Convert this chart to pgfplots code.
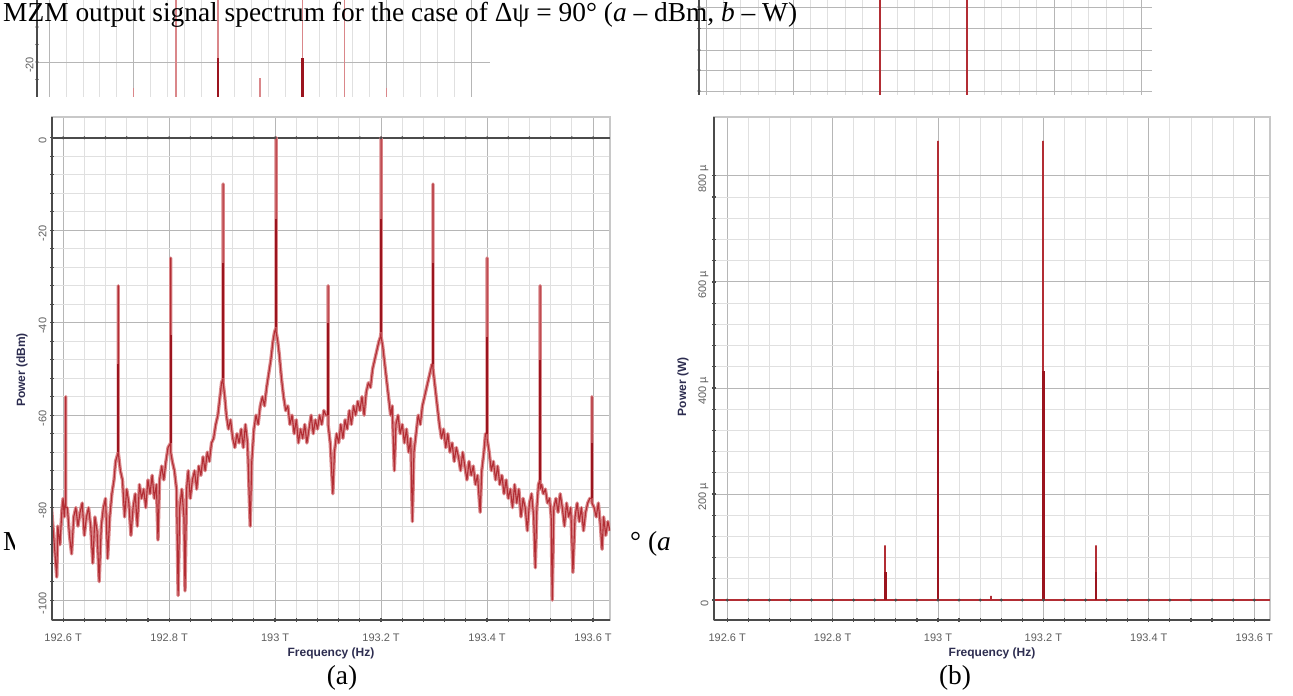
\documentclass[border=0pt]{standalone}
\usepackage{pgfplots}
\usepackage{pgfplotstable}
\pgfplotsset{compat=1.18}
\usepackage{fontspec}
\setmainfont{Liberation Serif}
\newfontfamily\arialfont{Liberation Sans}
\definecolor{trace}{RGB}{178,45,52}
\definecolor{tracedark}{RGB}{155,20,30}
\definecolor{tracelight}{RGB}{218,135,138}
\definecolor{spine}{RGB}{75,75,75}
\definecolor{majgrid}{RGB}{182,182,182}
\definecolor{mingrid}{RGB}{224,224,224}
\definecolor{framegray}{RGB}{200,200,200}
\definecolor{ticklab}{RGB}{95,95,95}
\definecolor{axlab}{RGB}{45,45,80}
\pgfplotsset{
  optistyle/.style={
    scale only axis, anchor=south west, clip mode=individual,
    axis line style={framegray, line width=1.2pt},
    grid=both,
    major grid style={majgrid, line width=0.9pt},
    minor grid style={mingrid, line width=0.9pt},
    minor x tick num=4, minor y tick num=4,
    tick style={spine, line width=1.2pt},
    major tick length=4pt, minor tick length=4pt, tick align=center,
    xtick pos=left, ytick pos=left,
    ticklabel style={font=\arialfont\fontsize{11}{12}\selectfont, text=ticklab},
    /pgf/number format/assume math mode=true,
    xticklabel style={yshift=-8pt},
    yticklabel style={rotate=90, anchor=south, xshift=-3pt},
  },
}
% power spectrum in dBm (panel a)
\pgfplotstableread{
f p
192.578 -80
192.582 -86
192.586 -92
192.588 -95
192.590 -84
192.594 -88
192.598 -80
192.600 -78
192.602 -82
192.604 -79
192.605 -78
192.605 -56
192.605 -80
192.608 -80
192.612 -86
192.616 -90
192.620 -82
192.624 -80
192.628 -84
192.632 -81
192.636 -79
192.640 -86
192.644 -82
192.648 -80
192.652 -84
192.656 -92
192.660 -82
192.664 -85
192.668 -96
192.672 -84
192.676 -80
192.680 -78
192.684 -91
192.688 -82
192.692 -77
192.696 -74
192.699 -70
192.704 -68
192.704 -32
192.704 -68
192.708 -72
192.712 -74
192.716 -82
192.720 -76
192.724 -79
192.728 -86
192.732 -80
192.736 -77
192.740 -84
192.744 -75
192.748 -78
192.752 -76
192.756 -80
192.760 -74
192.764 -77
192.768 -73
192.772 -78
192.776 -75
192.779 -87
192.782 -74
192.786 -71
192.790 -74
192.794 -70
192.798 -67
192.803 -66
192.803 -26
192.803 -68
192.806 -70
192.810 -72
192.814 -76
192.817 -99
192.820 -80
192.824 -76
192.828 -82
192.830 -98
192.833 -76
192.836 -72
192.840 -78
192.844 -74
192.848 -72
192.852 -76
192.856 -71
192.860 -73
192.864 -69
192.868 -72
192.872 -68
192.876 -70
192.880 -66
192.884 -65
192.888 -62
192.892 -60
192.896 -56
192.899 -53
192.902 -52
192.902 -10
192.902 -53
192.905 -56
192.908 -60
192.912 -63
192.916 -61
192.920 -65
192.924 -67
192.928 -64
192.932 -66
192.936 -63
192.940 -67
192.944 -62
192.948 -66
192.953 -84
192.956 -70
192.960 -63
192.964 -60
192.968 -62
192.972 -58
192.976 -56
192.980 -58
192.984 -54
192.988 -51
192.992 -48
192.996 -44
192.999 -42
193.002 -41
193.002 0
193.002 -42
193.005 -44
193.008 -47
193.012 -52
193.016 -56
193.020 -59
193.024 -58
193.028 -62
193.032 -60
193.036 -64
193.040 -61
193.044 -66
193.048 -63
193.052 -65
193.056 -62
193.060 -66
193.064 -63
193.068 -60
193.072 -64
193.076 -61
193.080 -63
193.084 -60
193.088 -62
193.092 -59
193.096 -60
193.100 -60
193.100 -32
193.100 -62
193.104 -66
193.109 -77
193.112 -68
193.116 -64
193.120 -66
193.124 -62
193.128 -65
193.132 -61
193.136 -63
193.140 -59
193.144 -62
193.148 -58
193.152 -60
193.156 -57
193.160 -59
193.164 -56
193.168 -60
193.172 -55
193.176 -53
193.180 -54
193.184 -50
193.188 -48
193.192 -46
193.196 -44
193.199 -43
193.200 -42
193.200 0
193.200 -43
193.203 -45
193.206 -48
193.210 -52
193.214 -56
193.218 -60
193.221 -58
193.225 -72
193.228 -62
193.232 -60
193.236 -64
193.240 -62
193.244 -66
193.248 -63
193.252 -68
193.256 -65
193.259 -83
193.262 -68
193.266 -64
193.270 -60
193.274 -62
193.278 -58
193.282 -56
193.286 -54
193.290 -52
193.294 -50
193.296 -49
193.298 -49
193.298 -10
193.298 -50
193.302 -54
193.306 -58
193.310 -62
193.314 -65
193.318 -63
193.322 -67
193.326 -64
193.330 -68
193.334 -66
193.338 -70
193.342 -67
193.346 -69
193.350 -72
193.354 -68
193.358 -71
193.362 -74
193.366 -70
193.370 -73
193.374 -71
193.378 -75
193.382 -73
193.387 -81
193.390 -72
193.394 -68
193.397 -64
193.400 -64
193.400 -26
193.400 -65
193.404 -68
193.408 -72
193.412 -70
193.416 -74
193.420 -71
193.424 -75
193.428 -73
193.432 -77
193.436 -74
193.440 -78
193.444 -76
193.448 -80
193.452 -75
193.456 -79
193.460 -76
193.464 -82
193.468 -78
193.472 -80
193.476 -85
193.480 -79
193.484 -77
193.488 -82
193.491 -93
193.494 -80
193.497 -75
193.500 -74
193.500 -32
193.500 -76
193.503 -75
193.506 -77
193.510 -76
193.514 -79
193.518 -78
193.521 -82
193.523 -100
193.526 -80
193.530 -78
193.534 -81
193.538 -77
193.542 -80
193.546 -84
193.550 -79
193.554 -82
193.558 -80
193.562 -94
193.566 -82
193.570 -79
193.574 -83
193.578 -80
193.582 -85
193.586 -81
193.590 -79
193.594 -78
193.598 -78
193.598 -56
193.598 -79
193.602 -80
193.606 -82
193.610 -79
193.614 -84
193.617 -89
193.620 -82
193.624 -86
193.628 -83
193.632 -85
}\dbmdata
\begin{document}
\begin{tikzpicture}
\useasboundingbox (0pt,0pt) rectangle (1293pt,696pt);

% ---------- top fragments of the previous figure ----------
\begin{axis}[optistyle, at={(37pt,599pt)}, width=453pt, height=97pt,
  xmin=192.571, xmax=193.645, ymin=-28, ymax=-5.83,
  xtick={192.6,192.8,193.0,193.2,193.4,193.6}, ytick={-20}, yticklabels={-20},
  major tick length=0pt, minor tick length=0pt,
  axis line style={draw=none}, xticklabels={},
  unbounded coords=jump]
\addplot[tracelight, line width=1.6pt] table {
192.8 -40
192.8 -26
192.8 nan
192.9 -40
192.9 -2
192.9 nan
193.0 -40
193.0 0
193.0 nan
193.1 -40
193.1 -23.7
193.1 nan
193.2 -40
193.2 0
193.2 nan
193.3 -40
193.3 -2
193.3 nan
193.4 -40
193.4 -26
};
\addplot[tracedark, line width=2.4pt] table {
193.0 -40
193.0 -19
193.0 nan
193.2 -40
193.2 -19
};
\draw[spine, line width=2pt] (rel axis cs:0,0) -- (rel axis cs:0,1);
\addplot[only marks, mark=*, mark size=1.3pt, spine] coordinates {(192.571,-24)(192.571,-20)(192.571,-16)(192.571,-12)(192.571,-8)};
\end{axis}

\begin{axis}[optistyle, at={(699pt,601pt)}, width=453pt, height=95pt,
  xmin=192.584, xmax=193.625, ymin=0, ymax=95,
  xtick={192.6,192.8,193.0,193.2,193.4,193.6},
  ytick={4,25,45,66.5,88}, minor y tick num=0, yticklabels={}, xticklabels={},
  major tick length=0pt, minor tick length=0pt,
  axis line style={draw=none},
  unbounded coords=jump]
\addplot[trace, line width=1.3pt] table {
193.0 0
193.0 95
193.0 nan
193.2 0
193.2 95
};
\draw[spine, line width=2pt] (rel axis cs:0,0) -- (rel axis cs:0,1);
\addplot[only marks, mark=*, mark size=1.3pt, spine] coordinates {(192.584,4)(192.584,25)(192.584,45)(192.584,66.5)(192.584,88)};
\end{axis}

% ---------- caption lines ----------
\node[anchor=base west, inner sep=0] at (3pt,674pt) {\fontsize{27.4}{32}\selectfont MZM output signal spectrum for the case of Δψ = 90° (\textit{a} – dBm, \textit{b} – W)};
\node[anchor=base west, inner sep=0] at (3pt,145pt) {\fontsize{27.4}{32}\selectfont M};
\node[anchor=base west, inner sep=0] at (630pt,145pt) {\fontsize{27.4}{32}\selectfont ° (\textit{a} – dBm, \textit{b} – W)};
\fill[white] (15pt,51pt) rectangle (615pt,596pt);
\fill[white] (676pt,51pt) rectangle (1293pt,596pt);

% ---------- (a) dBm spectrum ----------
\begin{axis}[optistyle, at={(52pt,76pt)}, width=558pt, height=503pt,
  xmin=192.579, xmax=193.632, ymin=-104.3, ymax=4.5,
  xtick={192.6,192.8,193.0,193.2,193.4,193.6},
  xticklabels={192.6 T,192.8 T,193 T,193.2 T,193.4 T,193.6 T},
  ytick={-100,-80,-60,-40,-20,0}, yticklabels={-100,-80,-60,-40,-20,0},
  unbounded coords=jump]
\draw[spine, line width=2.5pt] (axis cs:192.579,0) -- (axis cs:193.632,0);
\addplot[tracelight, line width=3.4pt, line join=round] table[x=f,y=p] {\dbmdata};
\addplot[trace, line width=1.1pt, line join=round] table[x=f,y=p] {\dbmdata};
\addplot[tracedark, line width=2.4pt] table {
192.704 -68
192.704 -49
192.704 nan
192.803 -66
192.803 -42.6
192.803 nan
192.902 -52
192.902 -27
192.902 nan
193.002 -41
193.002 -17.5
193.002 nan
193.100 -60
193.100 -40
193.100 nan
193.200 -42
193.200 -17.5
193.200 nan
193.298 -49
193.298 -27
193.298 nan
193.400 -64
193.400 -43
193.400 nan
193.500 -74
193.500 -48
193.500 nan
193.598 -78
193.598 -66
};
\addplot[only marks, mark=*, mark size=1.3pt, spine] coordinates {
(192.60,0)(192.64,0)(192.68,0)(192.72,0)(192.76,0)(192.80,0)(192.84,0)(192.88,0)(192.92,0)(192.96,0)
(193.00,0)(193.04,0)(193.08,0)(193.12,0)(193.16,0)(193.20,0)(193.24,0)(193.28,0)(193.32,0)(193.36,0)
(193.40,0)(193.44,0)(193.48,0)(193.52,0)(193.56,0)(193.60,0)};
\draw[spine, line width=2pt] (rel axis cs:0,0) -- (rel axis cs:0,1);
\draw[spine, line width=2pt] (rel axis cs:0,0) -- (rel axis cs:1,0);
\end{axis}

% ---------- (b) W spectrum (values in microwatt) ----------
\begin{axis}[optistyle, at={(714pt,76pt)}, width=556pt, height=503pt,
  xmin=192.575, xmax=193.630, ymin=-37.6, ymax=911,
  xtick={192.6,192.8,193.0,193.2,193.4,193.6},
  xticklabels={192.6 T,192.8 T,193 T,193.2 T,193.4 T,193.6 T},
  ytick={0,200,400,600,800}, yticklabels={0,200 µ,400 µ,600 µ,800 µ},
  unbounded coords=jump]
\addplot[trace, line width=1.8pt] table {
192.575 0
192.900 0
192.900 103
192.900 0
193.000 0
193.000 866
193.000 0
193.100 0
193.100 8
193.100 0
193.200 0
193.200 866
193.200 0
193.300 0
193.300 103
193.300 0
193.630 0
};
\addplot[tracedark, line width=2.8pt] table {
192.900 0
192.900 52
192.900 nan
193.000 0
193.000 432
193.000 nan
193.200 0
193.200 432
193.200 nan
193.300 0
193.300 52
};
\addplot[only marks, mark=*, mark size=1.3pt, spine] coordinates {
(192.60,0)(192.64,0)(192.68,0)(192.72,0)(192.76,0)(192.80,0)(192.84,0)(192.88,0)(192.92,0)(192.96,0)
(193.00,0)(193.04,0)(193.08,0)(193.12,0)(193.16,0)(193.20,0)(193.24,0)(193.28,0)(193.32,0)(193.36,0)
(193.40,0)(193.44,0)(193.48,0)(193.52,0)(193.56,0)(193.60,0)};
\draw[spine, line width=2pt] (rel axis cs:0,0) -- (rel axis cs:0,1);
\draw[spine, line width=2pt] (rel axis cs:0,0) -- (rel axis cs:1,0);
\end{axis}

% ---------- axis titles and panel labels ----------
\node[text=axlab, font=\arialfont\bfseries\fontsize{12}{13}\selectfont] at (331pt,43pt) {Frequency (Hz)};
\node[text=axlab, font=\arialfont\bfseries\fontsize{12}{13}\selectfont] at (992pt,43pt) {Frequency (Hz)};
\node[text=axlab, font=\arialfont\bfseries\fontsize{12}{13}\selectfont, rotate=90] at (22pt,326pt) {Power (dBm)};
\node[text=axlab, font=\arialfont\bfseries\fontsize{12}{13}\selectfont, rotate=90] at (683pt,309pt) {Power (W)};
\node[anchor=base, inner sep=0] at (342pt,11pt) {\fontsize{27.4}{32}\selectfont (a)};
\node[anchor=base, inner sep=0] at (955pt,11pt) {\fontsize{27.4}{32}\selectfont (b)};
\end{tikzpicture}
\end{document}
